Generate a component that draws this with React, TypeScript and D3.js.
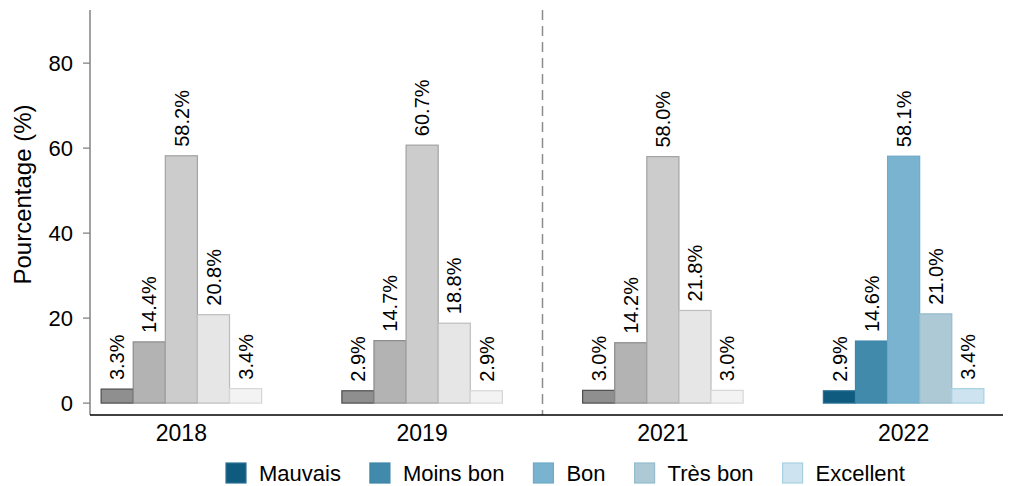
import React, { useEffect, useRef } from 'react';
import * as d3 from 'd3';

const years = ['2018', '2019', '2021', '2022'];
const categories = ['Mauvais', 'Moins bon', 'Bon', 'Très bon', 'Excellent'];
const values: number[][] = [
    [3.3, 14.4, 58.2, 20.8, 3.4],
    [2.9, 14.7, 60.7, 18.8, 2.9],
    [3.0, 14.2, 58.0, 21.8, 3.0],
    [2.9, 14.6, 58.1, 21.0, 3.4],
];
const yTicks = [0, 20, 40, 60, 80];

const greyFill = ['#8f8f8f', '#b3b3b3', '#cccccc', '#e6e6e6', '#f3f3f3'];
const greyStroke = ['#4d4d4d', '#8a8a8a', '#a3a3a3', '#bdbdbd', '#d6d6d6'];
const blueFill = ['#0f5b80', '#418aab', '#79b3cf', '#adc9d6', '#cee3f0'];
const blueStroke = ['#2c7095', '#3d86a8', '#6eaac8', '#94bccb', '#a9d0e2'];

const FONT = '"Liberation Sans", Arial, sans-serif';

const App: React.FC = () => {
    const svgRef = useRef<SVGSVGElement | null>(null);

    useEffect(() => {
        if (!svgRef.current) return;
        const svg = d3.select(svgRef.current);
        svg.selectAll('*').remove();

        const left = 90;
        const right = 1003;
        const top = 10;
        const bottom = 415;

        const y = d3.scaleLinear().domain([-2.8, 92.5]).range([bottom, top]);
        const x = d3.scaleBand<string>()
            .domain(years)
            .range([61, 1024])
            .paddingInner(1 / 3)
            .paddingOuter(1 / 6);
        const xInner = d3.scaleBand<string>()
            .domain(categories)
            .range([0, x.bandwidth()]);

        // dashed separator between 2019 and 2021
        const sepX = ((x('2019') as number) + x.bandwidth() + (x('2021') as number)) / 2;
        svg.append('line')
            .attr('x1', sepX).attr('x2', sepX)
            .attr('y1', top).attr('y2', bottom)
            .style('stroke', '#8c8c8c')
            .style('stroke-width', 1.5)
            .style('stroke-dasharray', '10,6');

        // bars
        const groups = svg.selectAll('g.year')
            .data(years)
            .enter()
            .append('g')
            .attr('class', 'year')
            .attr('transform', (d) => `translate(${x(d)},0)`);

        groups.selectAll('rect')
            .data((d, i) => values[i].map((v, j) => ({ v, j, yi: i })))
            .enter()
            .append('rect')
            .attr('x', (d) => xInner(categories[d.j]) as number)
            .attr('width', xInner.bandwidth())
            .attr('y', (d) => y(d.v))
            .attr('height', (d) => y(0) - y(d.v))
            .style('fill', (d) => (d.yi === 3 ? blueFill[d.j] : greyFill[d.j]))
            .style('stroke', (d) => (d.yi === 3 ? blueStroke[d.j] : greyStroke[d.j]))
            .style('stroke-width', 1.2);

        groups.selectAll('text.lbl')
            .data((d, i) => values[i].map((v, j) => ({ v, j })))
            .enter()
            .append('text')
            .attr('class', 'lbl')
            .attr('transform', (d) => {
                const cx = (xInner(categories[d.j]) as number) + xInner.bandwidth() / 2;
                return `translate(${cx},${y(d.v) - 9}) rotate(-90)`;
            })
            .attr('dy', '0.36em')
            .style('font-family', FONT)
            .style('font-size', '20px')
            .style('fill', '#000')
            .text((d) => `${d.v.toFixed(1)}%`);

        // y axis
        svg.append('line')
            .attr('x1', left).attr('x2', left)
            .attr('y1', top).attr('y2', bottom)
            .style('stroke', '#7a7a7a')
            .style('stroke-width', 1.4);

        svg.selectAll('line.ytick')
            .data(yTicks)
            .enter()
            .append('line')
            .attr('class', 'ytick')
            .attr('x1', left - 7).attr('x2', left)
            .attr('y1', (d) => y(d)).attr('y2', (d) => y(d))
            .style('stroke', '#7a7a7a')
            .style('stroke-width', 1.2);

        svg.selectAll('text.ytick')
            .data(yTicks)
            .enter()
            .append('text')
            .attr('class', 'ytick')
            .attr('x', 73)
            .attr('y', (d) => y(d))
            .attr('dy', '0.36em')
            .attr('text-anchor', 'end')
            .style('font-family', FONT)
            .style('font-size', '22px')
            .text((d) => d);

        svg.append('text')
            .attr('transform', `translate(22,${(top + bottom) / 2 - 18}) rotate(-90)`)
            .attr('text-anchor', 'middle')
            .attr('dy', '0.36em')
            .style('font-family', FONT)
            .style('font-size', '24px')
            .text('Pourcentage (%)');

        // x axis
        svg.append('line')
            .attr('x1', left).attr('x2', right)
            .attr('y1', bottom).attr('y2', bottom)
            .style('stroke', '#000')
            .style('stroke-width', 1.4);

        svg.selectAll('text.xtick')
            .data(years)
            .enter()
            .append('text')
            .attr('class', 'xtick')
            .attr('x', (d) => (x(d) as number) + x.bandwidth() / 2)
            .attr('y', 441)
            .attr('text-anchor', 'middle')
            .style('font-family', FONT)
            .style('font-size', '23px')
            .text((d) => d);

        // legend
        const legend = svg.append('g').attr('class', 'legend');
        let lx = 226;
        categories.forEach((c, i) => {
            legend.append('rect')
                .attr('x', lx).attr('y', 463)
                .attr('width', 20).attr('height', 20)
                .style('fill', blueFill[i])
                .style('stroke', blueStroke[i])
                .style('stroke-width', 1.2);
            const t = legend.append('text')
                .attr('x', lx + 33)
                .attr('y', 473)
                .attr('dy', '0.36em')
                .style('font-family', FONT)
                .style('font-size', '22px')
                .text(c);
            const w = (t.node() as SVGTextElement).getComputedTextLength();
            lx += 33 + w + 29;
        });
    }, []);

    return (
        <svg
            ref={svgRef}
            width={1013}
            height={486}
            style={{ position: 'absolute', left: 0, top: 0, background: '#fff' }}
        />
    );
};

export default App;
